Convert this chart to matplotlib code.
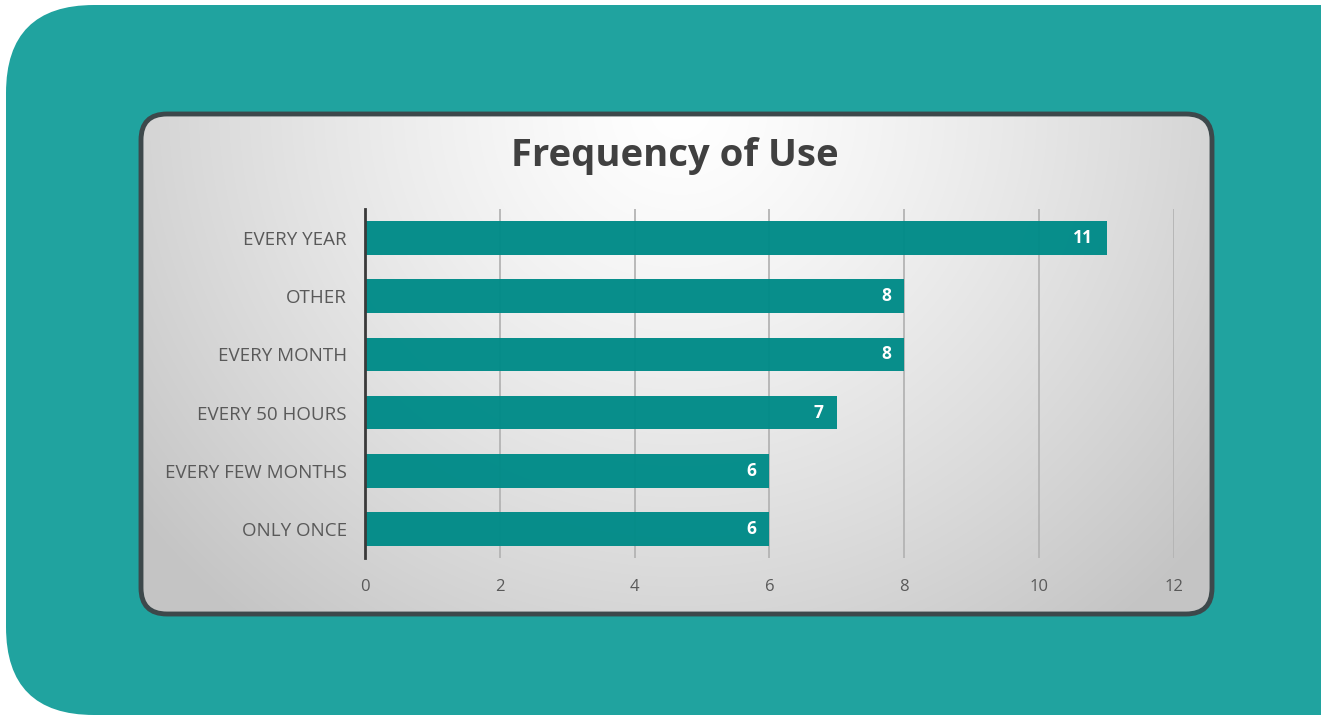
import numpy as np
import matplotlib.pyplot as plt
from matplotlib.patches import FancyBboxPatch

categories = ['EVERY YEAR', 'OTHER', 'EVERY MONTH', 'EVERY 50 HOURS',
              'EVERY FEW MONTHS', 'ONLY ONCE']
counts = [11, 8, 8, 7, 6, 6]
x_ticks = [0, 2, 4, 6, 8, 10, 12]

W, H = 1321, 717
teal_bg = '#20a39f'
bar_color = '#008b88'

plt.rcParams['font.family'] = ['Open Sans', 'DejaVu Sans']

fig = plt.figure(figsize=(W / 100, H / 100), dpi=100, facecolor='white')

# background layer in pixel coordinates
bg = fig.add_axes([0, 0, 1, 1])
bg.set_xlim(0, W)
bg.set_ylim(H, 0)
bg.axis('off')

teal = FancyBboxPatch((6, 5), W + 200, 710, boxstyle='round,pad=0,rounding_size=88',
                      fc=teal_bg, ec='none')
bg.add_patch(teal)

# inner panel with radial gradient
px0, py0, px1, py1 = 141, 114, 1212, 614
yy, xx = np.mgrid[py0:py1, px0:px1]
d = np.sqrt(((xx - 680) / 640.0) ** 2 + ((yy - 110) / 620.0) ** 2)
g = np.clip(1.0 - 0.21 * d ** 1.3, 0.77, 1.0)
img = np.dstack([g, g, g])
im = bg.imshow(img, extent=(px0, px1, py1, py0), zorder=2, interpolation='bilinear')
panel = FancyBboxPatch((px0, py0), px1 - px0, py1 - py0,
                       boxstyle='round,pad=0,rounding_size=26',
                       fc='none', ec='#3d484b', lw=3.5, zorder=3)
bg.add_patch(panel)
im.set_clip_path(panel)
bg.set_xlim(0, W)
bg.set_ylim(H, 0)

bg.text(675, 156, 'Frequency of Use', ha='center', va='center', fontsize=27.5,
        fontweight='bold', color='#404040', zorder=4)

# chart axes
ax = fig.add_axes([365 / W, 1 - 558 / H, (1174 - 365) / W, (558 - 209) / H])
ax.patch.set_alpha(0)
ypos = np.arange(len(categories))
ax.barh(ypos, counts, height=0.58, color=bar_color, alpha=0.97, zorder=3)
ax.set_ylim(len(categories) - 0.5, -0.5)
ax.set_xlim(0, 12)
ax.set_xticks(x_ticks)
ax.set_yticks(ypos)
ax.set_yticklabels(categories)
ax.grid(axis='x', color='#b4b4b4', lw=1.3, zorder=1)
ax.set_axisbelow(True)
for s in ['top', 'right', 'bottom']:
    ax.spines[s].set_visible(False)
ax.spines['left'].set_color('#3a3a3a')
ax.spines['left'].set_linewidth(2)
ax.spines['left'].set_zorder(4)
ax.tick_params(axis='y', length=0, pad=13, labelsize=13.5, labelcolor='#595959')
ax.tick_params(axis='x', length=0, pad=15, labelsize=12, labelcolor='#595959')

for y, v in zip(ypos, counts):
    ax.text(v - 0.2, y, str(v), ha='right', va='center', color='white',
            fontsize=12.5, fontweight='bold', zorder=5)

fig.savefig('out.png', dpi=100, facecolor='white')
